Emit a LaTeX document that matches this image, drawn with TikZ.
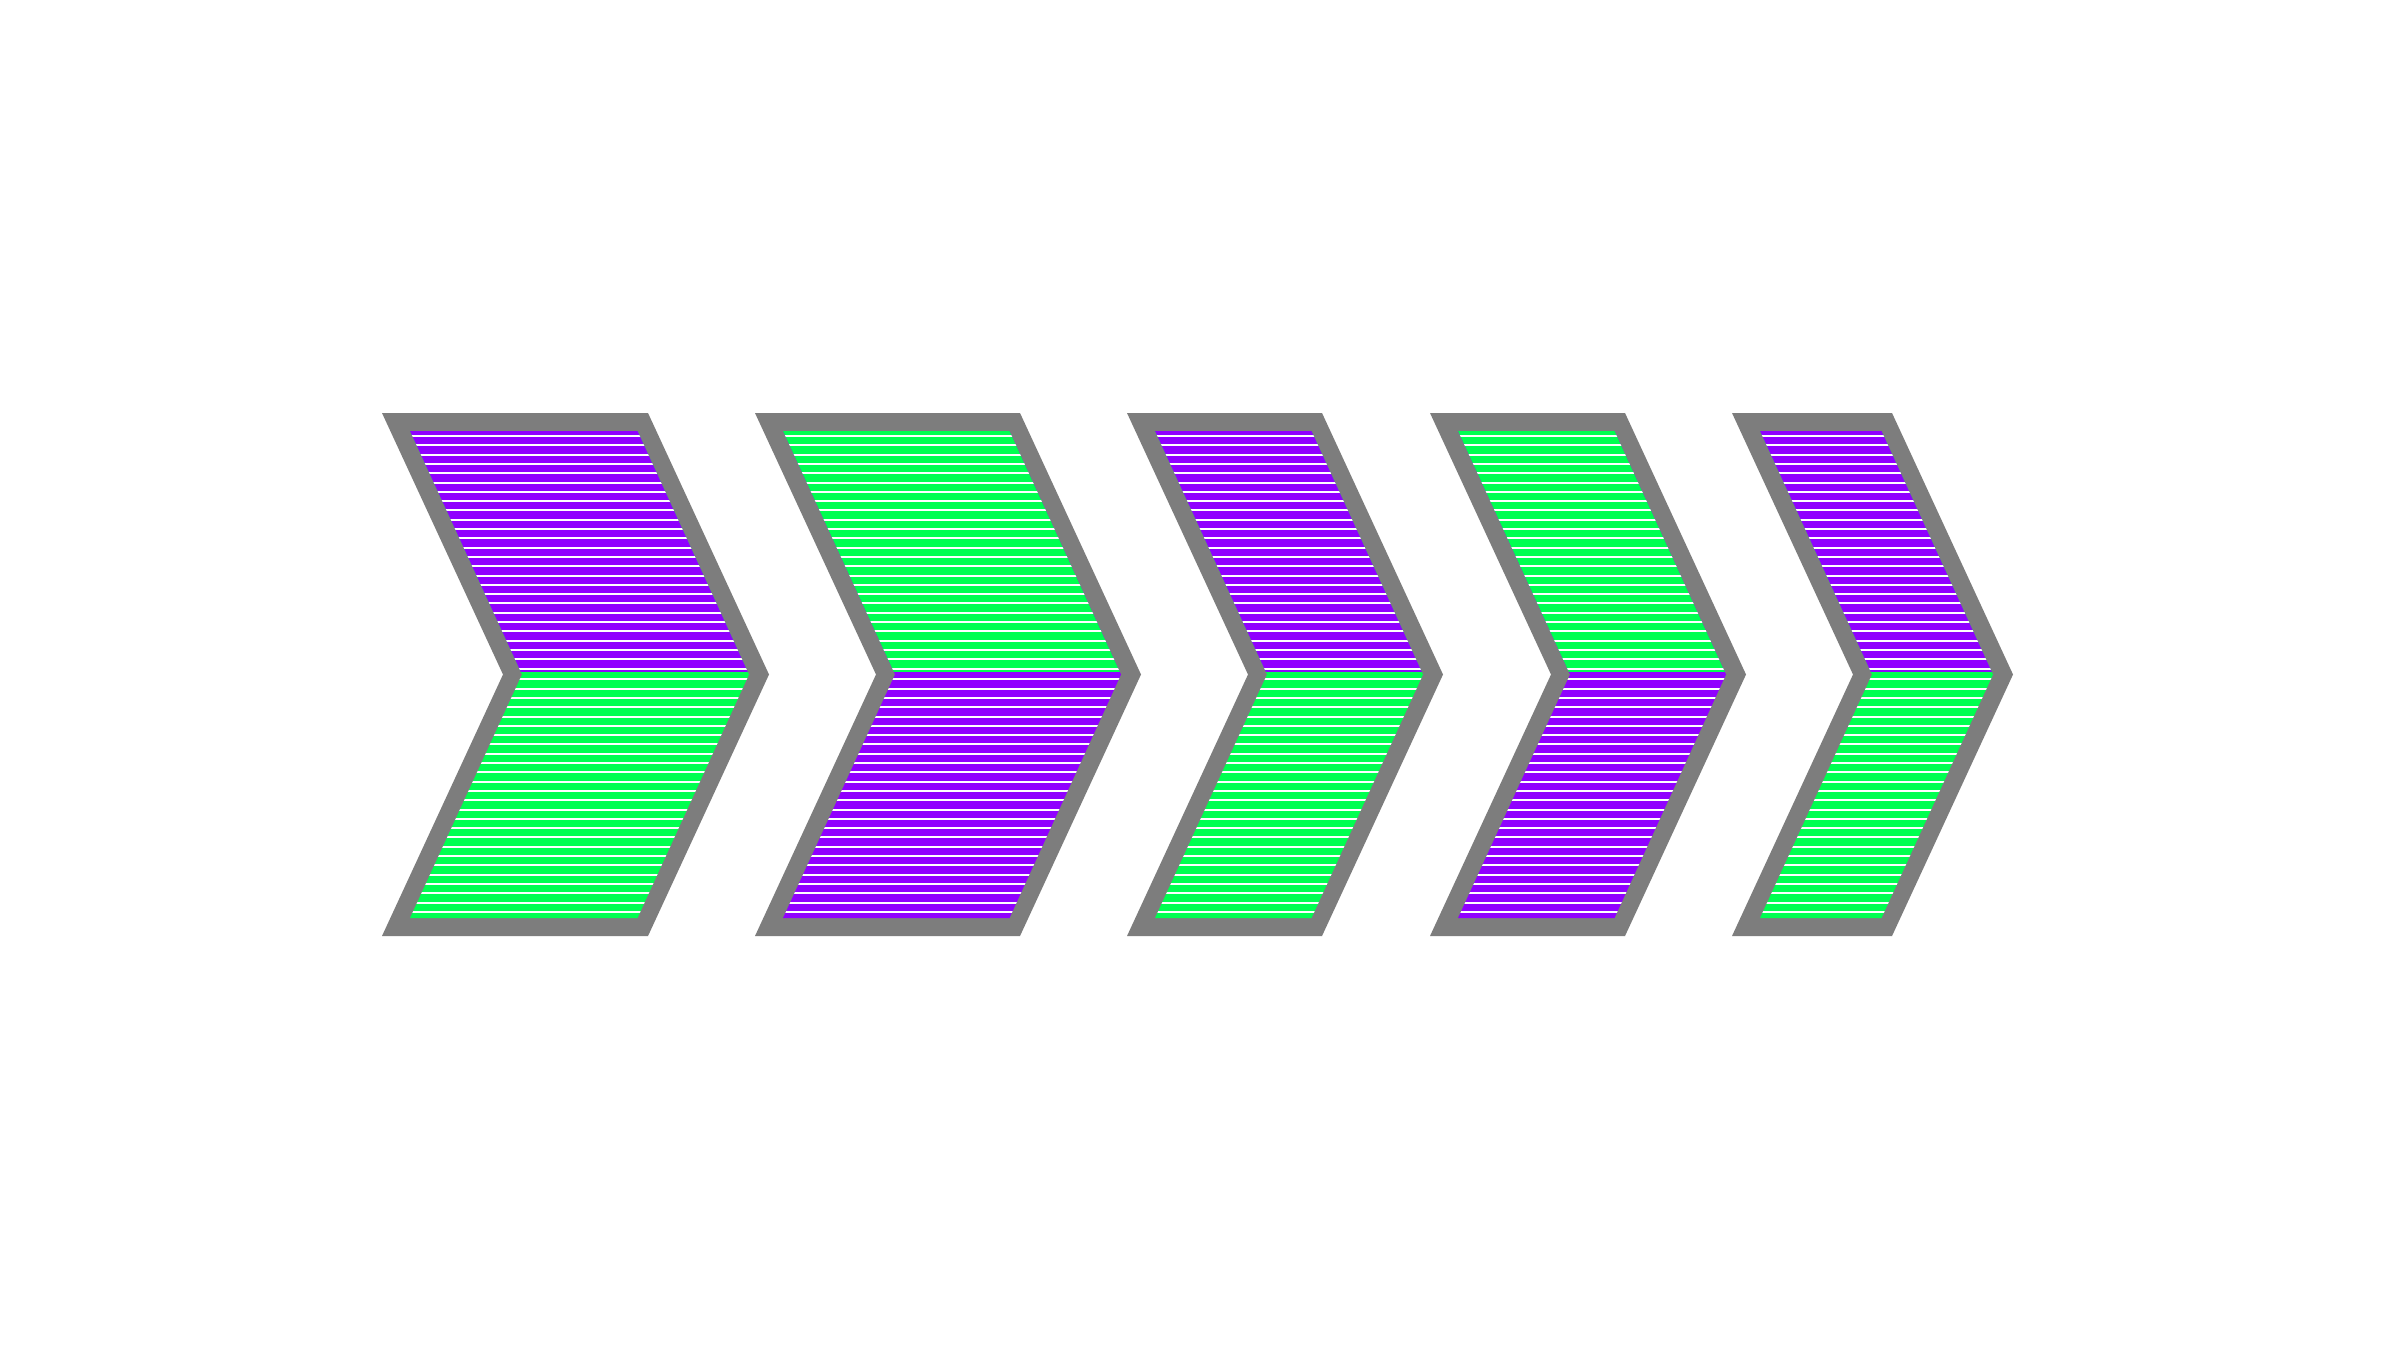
\documentclass[tikz,border=0pt]{standalone}
\definecolor{bordergray}{RGB}{125,125,125}
\definecolor{chevpurple}{RGB}{144,0,255}
\definecolor{chevgreen}{RGB}{0,255,80}
\tikzset{
  hatchline/.style={draw=white,line width=0.2mm},
  borderfill/.style={fill=bordergray}
}
% #1 = left x of outer top edge, #2 = width of top edge, #3 = top colour, #4 = bottom colour
\newcommand{\mychevron}[4]{%
  \fill[borderfill] (#1,413) -- (#1+#2,413) -- (#1+#2+121,674.5) -- (#1+#2,936)
        -- (#1,936) -- (#1+121,674.5) -- cycle;
  \begin{scope}
    \clip (#1+28,431) -- (#1+#2-10.5,431) -- (#1+#2+101,674.5) -- (#1+#2-10.5,918)
        -- (#1+28,918) -- (#1+140,674.5) -- cycle;
    \fill[#4] (#1,425) rectangle (#1+#2+130,925);
    \fill[#3] (#1,425) rectangle (#1+#2+130,671.5);
    \foreach \k in {0,...,25}{
      \draw[hatchline] (#1,436+9.3*\k) -- (#1+#2+130,436+9.3*\k);
      \draw[hatchline] (#1,679.3+9.3*\k) -- (#1+#2+130,679.3+9.3*\k);
    }
  \end{scope}
}
\begin{document}
\begin{tikzpicture}[x=0.1mm,y=-0.1mm]
  \useasboundingbox (0,0) rectangle (2400,1350);
  \fill[white] (0,0) rectangle (2400,1350);
  \mychevron{382}{266}{chevpurple}{chevgreen}
  \mychevron{755}{265}{chevgreen}{chevpurple}
  \mychevron{1127}{195}{chevpurple}{chevgreen}
  \mychevron{1430}{195}{chevgreen}{chevpurple}
  \mychevron{1732}{160}{chevpurple}{chevgreen}
\end{tikzpicture}
\end{document}
